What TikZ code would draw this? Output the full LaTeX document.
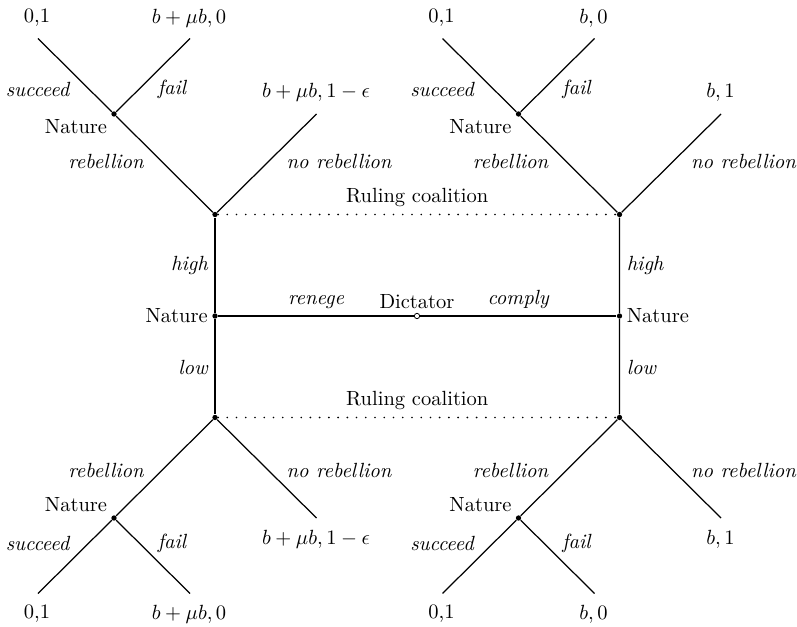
\documentclass[tikz,border=0pt]{standalone}
\usepackage{amsmath}

\begin{document}
\begin{tikzpicture}[x=1.713cm,y=1.713cm,
    dot/.style={circle,fill,inner sep=0pt,minimum size=2.6pt},
    hollow/.style={circle,draw,fill=white,inner sep=0pt,minimum size=2.6pt,thin},
    branch/.style={semithick},
    act/.style={font=\itshape},
    info/.style={line width=.9pt,line cap=round,dash pattern=on 0pt off 4.5pt}]
      \useasboundingbox (0,0) rectangle (7.97,6.26);
      % dictator and the two moves of nature
      \node[hollow] (dic) at (4.17,3.10) {};
      \node[dot] (natl) at (2.15,3.10) {};
      \node[dot] (natr) at (6.195,3.10) {};
      \node[left] (natlab1) at (natl) {Nature};
      \node[right] (natlab2) at (natr) {Nature};
      \node[above] (diclab) at (dic) {Dictator};
      \draw[branch] (natl) -- node[act,above] (ren) {renege} (dic);
      \draw[branch] (dic) -- node[act,above] (com) {comply} (natr);
      % the four subtrees of the ruling coalition
      \foreach \s/\x/\p/\q in {l/0/{b+\mu b}/{1-\epsilon},r/4.045/b/1}{
        \foreach \t/\d in {u/1,d/-1}{
          \node[dot] (rc\s\t) at (2.15+\x,3.10+1.015*\d) {};
          \node[dot] (nat\s\t) at (1.14+\x,3.10+2.02*\d) {};
          \coordinate (suc\s\t) at (0.38+\x,3.10+2.775*\d);
          \coordinate (fai\s\t) at (1.90+\x,3.10+2.775*\d);
          \coordinate (nor\s\t) at (3.165+\x,3.10+2.02*\d);
          \draw[branch] (nat\s) -- (rc\s\t);
          \draw[branch] (rc\s\t) -- (nat\s\t);
          \draw[branch] (rc\s\t) -- (nor\s\t);
          \draw[branch] (nat\s\t) -- (suc\s\t);
          \draw[branch] (nat\s\t) -- (fai\s\t);
          \node[act] (re\s\t) at (1.06+\x,3.10+1.545*\d) {rebellion};
          \node[act] (nr\s\t) at (3.39+\x,3.10+1.545*\d) {no rebellion};
          \node (nl\s\t) at (0.76+\x,3.10+1.89*\d) {Nature};
          \node[act] (sl\s\t) at (0.375+\x,3.10+2.27*\d) {succeed};
          \node[act] (fl\s\t) at (1.72+\x,3.10+2.27*\d) {fail};
          \node (pa\s\t) at (0.37+\x,3.10+2.98*\d) {0,1};
          \node (pb\s\t) at (1.89+\x,3.10+2.98*\d) {$\p,0$};
          \node (pc\s\t) at (3.16+\x,3.10+2.235*\d) {$\p,\q$};
        }
      }
      \node[act,left] (hil) at (2.15,3.61) {high};
      \node[act,left] (lol) at (2.15,2.59) {low};
      \node[act,right] (hir) at (6.195,3.61) {high};
      \node[act,right] (lor) at (6.195,2.59) {low};
      % information sets
      \draw[info] (rclu) -- node[above] (rcu) {Ruling coalition} (rcru);
      \draw[info] (rcld) -- node[above] (rcd) {Ruling coalition} (rcrd);
    \end{tikzpicture}
\end{document}
